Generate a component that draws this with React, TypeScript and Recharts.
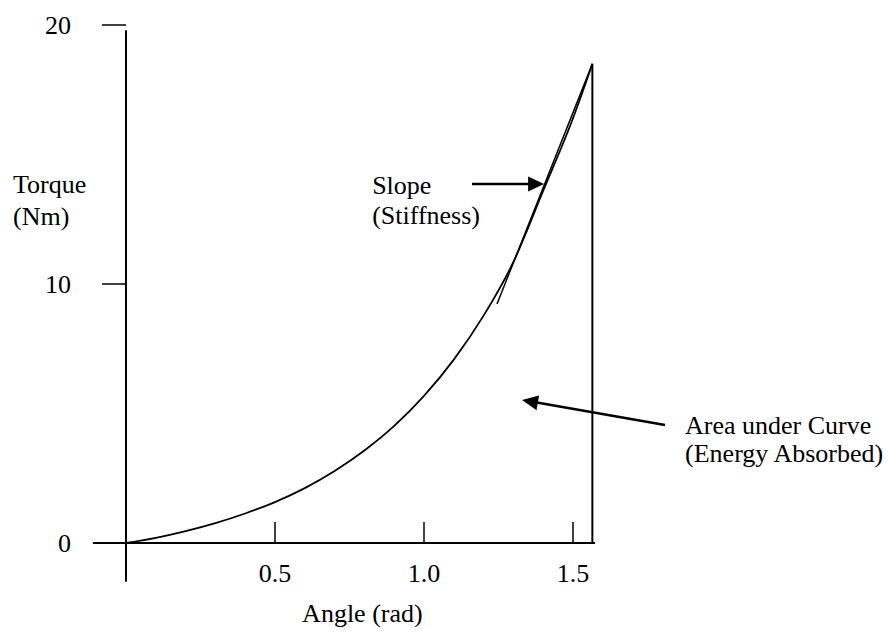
import React from 'react';
import { LineChart, Line, XAxis, YAxis, ReferenceLine, ReferenceDot } from 'recharts';

// torque-angle curve
const angles = [0, 0.1, 0.2, 0.3, 0.4, 0.5, 0.6, 0.7, 0.8, 0.9, 1.0, 1.1, 1.2, 1.3, 1.4, 1.5, 1.565];
const torques = [0, 0.2, 0.46, 0.77, 1.14, 1.58, 2.12, 2.78, 3.57, 4.52, 5.68, 7.08, 8.78, 10.85, 13.6, 16.4, 18.5];

const xTicks = [0.5, 1.0, 1.5];
const yTicks = [0, 10, 20];

// the hand-drawn "slope" line near the top of the curve
const tangentAngles = [1.245, 1.565];
const tangentTorques = [9.23, 18.5];

const curve = angles.map((a, i) => ({ angle: a, torque: torques[i] }));

const SERIF = '"Liberation Serif", "Times New Roman", serif';
const FONT = 26;
const tickFont = { fill: '#000', fontSize: FONT, fontFamily: SERIF };

const arrowShape = (p: any) => {
  const { x1, y1, x2, y2 } = p;
  const dx = x2 - x1;
  const dy = y2 - y1;
  const len = Math.hypot(dx, dy) || 1;
  const ux = dx / len;
  const uy = dy / len;
  const head = 16;
  const half = 7.5;
  const bx = x2 - ux * head;
  const by = y2 - uy * head;
  return (
    <g>
      <line x1={x1} y1={y1} x2={bx + ux} y2={by + uy} stroke="#000" strokeWidth={2.5} />
      <polygon
        points={`${x2},${y2} ${bx - uy * half},${by + ux * half} ${bx + uy * half},${by - ux * half}`}
        fill="#000"
      />
    </g>
  );
};

const textShape = (lines: string[], gap: number) => (p: any) => (
  <text x={p.cx} y={p.cy} fill="#000" fontSize={FONT} fontFamily={SERIF} textAnchor="start">
    {lines.map((l, i) => (
      <tspan key={i} x={p.cx} dy={i === 0 ? 0 : gap}>
        {l}
      </tspan>
    ))}
  </text>
);

const plain = { stroke: '#000', strokeWidth: 2 };

export default function App() {
  return (
    <div style={{ position: 'absolute', left: 0, top: 0, background: '#fff' }}>
      <LineChart width={891} height={633} data={curve} margin={{ top: 25, right: 288.2, bottom: 50, left: 70 }}>
        <XAxis
          type="number"
          dataKey="angle"
          domain={[0, 1.6]}
          ticks={xTicks}
          tickFormatter={(v: number) => v.toFixed(1)}
          axisLine={false}
          tickLine={false}
          tickSize={0}
          tickMargin={21}
          height={40}
          tick={tickFont}
          allowDataOverflow
        />
        <YAxis
          type="number"
          domain={[0, 20]}
          ticks={yTicks}
          width={56}
          axisLine={false}
          tickLine={{ stroke: '#000', strokeWidth: 1.5 }}
          tickSize={24}
          tickMargin={31}
          tick={tickFont}
          allowDataOverflow
        />

        {/* axes drawn as plain segments so they can run past the origin */}
        <ReferenceLine segment={[{ x: -0.111, y: 0 }, { x: 1.574, y: 0 }]} ifOverflow="visible" {...plain} />
        <ReferenceLine segment={[{ x: 0, y: 19.8 }, { x: 0, y: -1.5 }]} ifOverflow="visible" {...plain} />
        {xTicks.map((t) => (
          <ReferenceLine key={t} segment={[{ x: t, y: 0 }, { x: t, y: 0.81 }]} ifOverflow="visible" stroke="#000" strokeWidth={1.5} />
        ))}

        {/* right edge of the area */}
        <ReferenceLine
          segment={[{ x: angles[angles.length - 1], y: 0 }, { x: angles[angles.length - 1], y: torques[torques.length - 1] }]}
          ifOverflow="visible"
          {...plain}
        />
        <ReferenceLine
          segment={[{ x: tangentAngles[0], y: tangentTorques[0] }, { x: tangentAngles[1], y: tangentTorques[1] }]}
          ifOverflow="visible"
          stroke="#000"
          strokeWidth={1.5}
        />

        <ReferenceLine segment={[{ x: 1.161, y: 13.86 }, { x: 1.403, y: 13.86 }]} ifOverflow="visible" shape={arrowShape} />
        <ReferenceLine segment={[{ x: 1.809, y: 4.56 }, { x: 1.329, y: 5.52 }]} ifOverflow="visible" shape={arrowShape} />

        <ReferenceDot x={-0.379} y={13.51} r={0} ifOverflow="visible" shape={textShape(['Torque', '(Nm)'], 32)} />
        <ReferenceDot x={0.826} y={13.47} r={0} ifOverflow="visible" shape={textShape(['Slope', '(Stiffness)'], 30)} />
        <ReferenceDot x={1.876} y={4.21} r={0} ifOverflow="visible" shape={textShape(['Area under Curve', '(Energy Absorbed)'], 28)} />
        <ReferenceDot x={0.591} y={-3.05} r={0} ifOverflow="visible" shape={textShape(['Angle (rad)'], 0)} />

        <Line type="monotone" dataKey="torque" stroke="#000" strokeWidth={1.8} dot={false} isAnimationActive={false} />
      </LineChart>
    </div>
  );
}
